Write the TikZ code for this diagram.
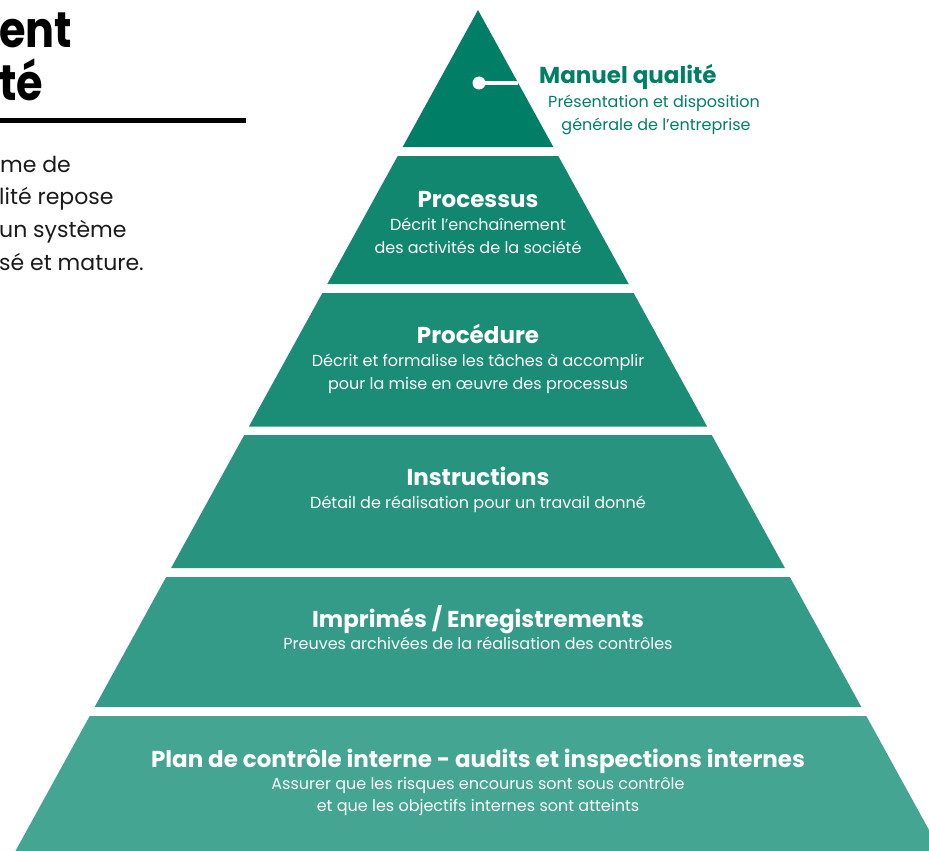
\documentclass[tikz,border=0pt]{standalone}
\usepackage{fontspec}
\setmainfont{Poppins}
\newfontfamily\headfont[FakeStretch=0.86]{Poppins}
\definecolor{gA}{HTML}{007F66}
\definecolor{gB}{HTML}{11876F}
\definecolor{gC}{HTML}{1B8D77}
\definecolor{gD}{HTML}{289480}
\definecolor{gE}{HTML}{349B88}
\definecolor{gF}{HTML}{43A592}
\definecolor{ink}{HTML}{1A1A1A}
\begin{document}
\begin{tikzpicture}[x=1pt,y=-1pt,
  ttl/.style={text=white,font=\fontsize{23}{27}\selectfont\bfseries,inner sep=0pt,anchor=base},
  dsc/.style={text=white,font=\fontsize{16}{19}\selectfont,inner sep=0pt,anchor=base},
  lefttxt/.style={text=ink,font=\fontsize{22}{26}\selectfont,inner sep=0pt,anchor=base west},
  bigttl/.style={text=black,font=\headfont\fontsize{50}{58}\selectfont\bfseries,inner sep=0pt,anchor=base west}]
\useasboundingbox (0,0) rectangle (929,851);
% pyramid layers
\fill[gA] (478,10) -- (553.35,147) -- (402.65,147) -- cycle;
\fill[gB] (397.7,156) -- (558.3,156) -- (628.7,284) -- (327.3,284) -- cycle;
\fill[gC] (322.35,293) -- (633.65,293) -- (707.1,426.5) -- (248.9,426.5) -- cycle;
\fill[gD] (244.25,435) -- (711.75,435) -- (784.9,568) -- (171.1,568) -- cycle;
\fill[gE] (166.15,577) -- (789.85,577) -- (861.35,707) -- (94.65,707) -- cycle;
\fill[gF] (89.7,716) -- (866.3,716) -- (940.55,851) -- (15.45,851) -- cycle;
% connector in top triangle
\node[circle,fill=white,minimum size=13pt,inner sep=0pt] (dot) at (479,83) {};
\coordinate (edge) at (518,83);
\draw[white,line width=3pt] (dot.center) -- (edge);
% manuel qualite
\node[text=gA,font=\fontsize{23}{27}\selectfont\bfseries,inner sep=0pt,anchor=base west] (mq) at (539,84) {Manuel qualité};
\node[text=gA,font=\fontsize{16}{19}\selectfont,inner sep=0pt,anchor=base] (mq1) at (654,107) {Présentation et disposition};
\node[text=gA,font=\fontsize{16}{19}\selectfont,inner sep=0pt,anchor=base] (mq2) at (656,130) {générale de l’entreprise};
% layer texts
\node[ttl] (p1) at (478,207) {Processus};
\node[dsc] (p1a) at (478,230) {Décrit l’enchaînement};
\node[dsc] (p1b) at (478,253) {des activités de la société};
\node[ttl] (p2) at (478,343) {Procédure};
\node[dsc] (p2a) at (478,366) {Décrit et formalise les tâches à accomplir};
\node[dsc] (p2b) at (478,389) {pour la mise en œuvre des processus};
\node[ttl] (p3) at (478,485) {Instructions};
\node[dsc] (p3a) at (478,508) {Détail de réalisation pour un travail donné};
\node[ttl] (p4) at (478,627) {Imprimés / Enregistrements};
\node[dsc] (p4a) at (478,649) {Preuves archivées de la réalisation des contrôles};
\node[ttl] (p5) at (478,767) {Plan de contrôle interne - audits et inspections internes};
\node[dsc] (p5a) at (478,789) {Assurer que les risques encourus sont sous contrôle};
\node[dsc] (p5b) at (478,811) {et que les objectifs internes sont atteints};
% left side
\node[bigttl] (t1) at (-1,48) {ent};
\node[bigttl] (t2) at (-1,100) {té};
\fill[black] (0,118) rectangle (246,123);
\node[lefttxt] (l1) at (0,172) {me de};
\node[lefttxt] (l2) at (-1,204) {lité repose};
\node[lefttxt] (l3) at (-1,237) {un système};
\node[lefttxt] (l4) at (-1,270) {sé et mature.};
\end{tikzpicture}
\end{document}
